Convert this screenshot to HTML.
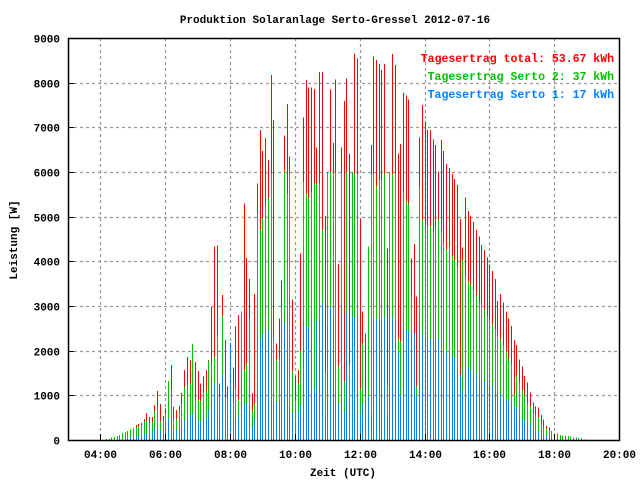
<!DOCTYPE html>
<html><head><meta charset="utf-8"><style>
html,body{margin:0;padding:0;background:#fff;}
svg{display:block;font-family:"Liberation Mono",monospace;font-weight:bold;}
</style></head><body>
<svg id="chart" width="640" height="480" viewBox="0 0 640 480">
<rect x="0" y="0" width="640" height="480" fill="#fff"/>
<text x="335" y="23" text-anchor="middle" font-size="11">Produktion Solaranlage Serto-Gressel 2012-07-16</text>
<g id="grid"></g>
<g id="bars"></g>
<g id="axes"></g>
<text transform="translate(17,240) rotate(-90)" text-anchor="middle" font-size="11">Leistung [W]</text>
<text x="343" y="476" text-anchor="middle" font-size="11">Zeit (UTC)</text>
<text x="614" y="62" text-anchor="end" font-size="11.5" fill="#ff0000">Tagesertrag total: 53.67 kWh</text>
<text x="614" y="80" text-anchor="end" font-size="11.5" fill="#00c000">Tagesertrag Serto 2: 37 kWh</text>
<text x="614" y="98" text-anchor="end" font-size="11.5" fill="#0080ff">Tagesertrag Serto 1: 17 kWh</text>
</svg>
<script>
// data: bars every 5 minutes starting 04:10
const startMinutes = 250;
const stepMinutes = 5;
const totalW = [22,22,60,67,90,112,157,180,201,230,269,336,358,380,470,600,515,515,784,1097,806,537,700,1321,1680,739,672,761,1052,1567,1858,
1791,2150,1746,1545,1269,1418,1567,1791,2985,4328,4360,1270,3250,2240,1194,2172,1620,2537,2800,2873,5290,4080,3600,1045,3270,5746,6940,6470,6760,6270,8172,
7164,2164,2724,3567,6814,7523,6343,3150,1433,1567,4180,7217,8060,7888,7888,7859,6545,8240,8240,5015,6000,7843,6650,8076,3941,6552,7590,8090,6403,6000,8657,
8545,4963,2873,2380,4328,6605,8582,8508,8418,8284,8418,4291,6000,8642,8396,6418,6627,7769,7709,7620,4067,4388,3209,6769,7500,7127,6940,6940,6732,6605,
6008,6716,6470,6179,6090,5955,5843,5709,4948,4306,5426,5127,5015,4881,4701,4552,4366,4254,4090,3933,3784,3604,3112,3270,3075,2873,2724,2552,2239,2127,
1806,1642,1433,1284,1060,836,746,731,560,463,313,284,202,150,150,112,97,90,90,75,60,52,45,30,10];
const serto2Top = [22,22,60,67,90,112,157,180,201,230,269,291,300,310,420,440,380,400,650,740,420,420,600,1321,1120,470,470,650,800,1190,1280,
1254,2150,896,896,869,1075,1097,1780,1732,1858,2330,970,2780,940,940,2172,866,1150,896,2873,1567,1715,2740,650,820,5075,4700,4970,5260,5410,5970,
2314,1776,1830,2985,6008,5522,6008,1545,880,1269,1993,5800,5522,5433,5560,5746,5746,5746,4701,1515,6000,6000,6000,6000,1642,6000,1306,6000,1687,6000,5955,
5970,1156,2164,1008,4328,5970,5970,5672,5821,5821,5970,1231,6000,5970,5970,2276,2202,5560,5336,5298,3209,2388,1194,5650,4925,4851,4800,4776,4664,4739,
4940,4664,4418,4254,4328,4142,4030,3880,1455,4030,3671,3545,3470,3358,3224,3097,3022,2925,2800,2701,2597,2478,2351,2254,2127,1978,1828,1716,1045,1448,
1306,1120,1008,821,746,597,560,507,373,299,261,224,187,150,150,112,97,90,90,75,60,52,45,30,10];
const serto1 = [0,0,0,0,0,0,10,20,40,45,70,80,90,100,120,140,120,160,260,280,200,220,400,470,470,220,220,300,320,430,430,
560,567,560,410,410,485,485,672,1418,1240,537,460,1418,460,460,2172,410,460,560,1418,780,820,820,300,460,2360,2225,2360,2463,2440,2760,
820,860,860,2985,2612,2015,746,597,410,597,784,2650,2537,2493,2575,1120,2650,2680,3060,597,2537,2985,2760,1120,784,2985,627,2836,800,2760,2724,
2760,560,821,970,970,560,2724,2700,2690,2690,2724,560,2910,2724,2700,1941,970,2500,2463,2420,2351,2388,970,2537,2351,2254,2254,2254,2230,2215,
2276,2015,1978,1940,1903,1866,1828,1455,1455,1045,1657,1627,1530,1493,1455,1396,1381,1306,1269,1231,1194,1082,1045,1008,933,896,858,784,746,709,
507,448,410,410,336,261,224,187,150,112,112,90,75,60,37,20,10,5,0,0,0,0,0,0,0];
const yTicks = [0,1000,2000,3000,4000,5000,6000,7000,8000,9000];
const xTickLabels = ["04:00","06:00","08:00","10:00","12:00","14:00","16:00","18:00","20:00"];
const xTickMinutes = [240,360,480,600,720,840,960,1080,1200];

const NS="http://www.w3.org/2000/svg";
const L=68,R=619,T=38,B=440;
function xs(min){return L+(min-180)/(1200-180)*(R-L);}
function ys(v){return B-v/9000*(B-T);}
function mk(tag,attrs,parent){const e=document.createElementNS(NS,tag);for(const k in attrs)e.setAttribute(k,attrs[k]);parent.appendChild(e);return e;}
const grid=document.getElementById('grid'),bars=document.getElementById('bars'),axes=document.getElementById('axes');
yTicks.forEach((v)=>{
  const y=Math.round(ys(v))+0.5;
  if(v>0&&v<9000){const g=mk('line',{x1:L,x2:R,y1:y,y2:y,stroke:'#999','stroke-width':1.3,'stroke-dasharray':'3,3'},grid);
  
  }
  const t=mk('line',{x1:L,x2:L+6,y1:y,y2:y,stroke:'#000'},axes);
  
  
  const lb=mk('text',{x:60,y:y+4,'text-anchor':'end','font-size':11},axes);
  lb.textContent=v;
  
  
});
xTickMinutes.forEach((m,i)=>{
  const x=Math.round(xs(m))+0.5;
  if(m<1200){const g=mk('line',{x1:x,x2:x,y1:T,y2:B,stroke:'#999','stroke-width':1.3,'stroke-dasharray':'3,3'},grid);
  
  }
  const t=mk('line',{x1:x,x2:x,y1:B,y2:B-6,stroke:'#000'},axes);
  
  
  const lb=mk('text',{x:x,y:458,'text-anchor':'middle','font-size':11},axes);
  lb.textContent=xTickLabels[i];
  
  
});
function bar(i,v,color,name){
  if(v<=0)return;
  const x=Math.round(xs(startMinutes+i*stepMinutes));
  const y=ys(v);
  const r=mk('rect',{x:x,y:y,width:1.2,height:B-y,fill:color,'shape-rendering':'crispEdges'},bars);
  
  
}
totalW.forEach((v,i)=>{
  bar(i,v,'#ff0000','bar-total');
  bar(i,serto2Top[i],'#00c000','bar-serto2');
  bar(i,serto1[i],'#0080ff','bar-serto1');
});
const fr=mk('rect',{x:L+0.5,y:T+0.5,width:R-L,height:B-T,fill:'none',stroke:'#000','stroke-width':1.5},axes);


</script>
</body></html>
